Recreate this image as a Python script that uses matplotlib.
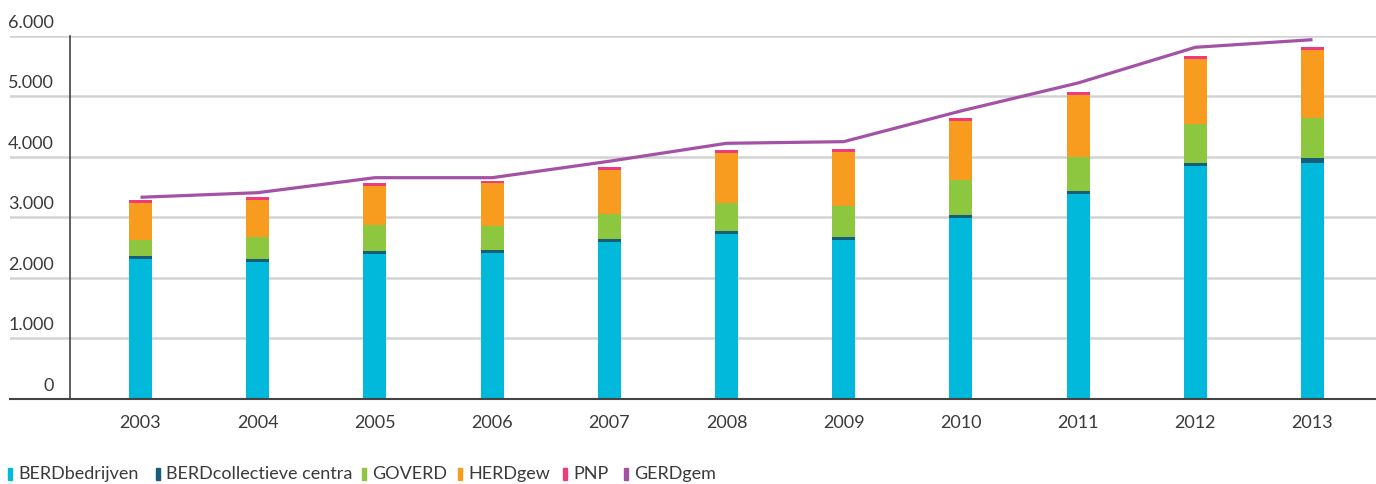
import matplotlib
matplotlib.use("Agg")
import matplotlib.pyplot as plt
from matplotlib.patches import Rectangle
import numpy as np

years = ["2003", "2004", "2005", "2006", "2007", "2008", "2009", "2010", "2011", "2012", "2013"]
berd_bedrijven = [2311, 2261, 2394, 2415, 2592, 2725, 2625, 2989, 3386, 3849, 3899]
berd_collectief = [46, 50, 49, 50, 50, 45, 50, 50, 50, 50, 88]
goverd = [268, 364, 431, 397, 418, 467, 518, 584, 562, 650, 661]
herdgew = [612, 612, 641, 706, 723, 828, 888, 971, 1026, 1071, 1120]
pnp = [50, 45, 53, 33, 50, 50, 50, 50, 50, 49, 50]
gerdgem = [3332, 3408, 3656, 3656, 3928, 4225, 4252, 4760, 5223, 5813, 5939]

series_names = ["BERDbedrijven", "BERDcollectieve centra", "GOVERD", "HERDgew", "PNP", "GERDgem"]
colors = ["#00B9DB", "#135F79", "#8DC63F", "#F89C1F", "#EE3B7B", "#A352A6"]
yticks = [0, 1000, 2000, 3000, 4000, 5000, 6000]

plt.rcParams['font.family'] = ['Lato', 'DejaVu Sans']
text_color = "#3a3a3a"
fs = 13

W, H = 1376, 484
fig = plt.figure(figsize=(W / 100, H / 100), dpi=100)
px0, px_spacing = 140.5, 117.2
xl = (10 - px0) / px_spacing
xr = (W - px0) / px_spacing
y0_px, y6_px = 398.7, 36.0
ax = fig.add_axes([10 / W, (H - y0_px) / H, 1 - 10 / W, (y0_px - y6_px) / H])
ax.set_xlim(xl, xr)
ax.set_ylim(0, 6000)

x = np.arange(len(years))
bw = 23 / px_spacing
stacks = [berd_bedrijven, berd_collectief, goverd, herdgew, pnp]
bottom = np.zeros(len(years))
for vals, c in zip(stacks, colors[:5]):
    ax.bar(x, vals, bw, bottom=bottom, color=c, zorder=3, linewidth=0)
    bottom += np.array(vals)

ax.plot(x, gerdgem, color=colors[5], lw=2.3, zorder=4, solid_capstyle='butt')

# gridlines
for v in yticks[1:]:
    ax.axhline(v, color="#d2d2d2", lw=1.8, zorder=1)
for s in ["top", "right", "left"]:
    ax.spines[s].set_visible(False)
ax.spines["bottom"].set_color("#444444")
ax.spines["bottom"].set_linewidth(1.5)
ax.spines["bottom"].set_zorder(5)

# vertical axis line
xax = (70 - px0) / px_spacing
ax.plot([xax, xax], [0, 6000], color="#333333", lw=1.1, zorder=5, clip_on=False)

ax.set_yticks([])
xlab = (54 - px0) / px_spacing
for v in yticks:
    lab = f"{v:,}".replace(",", ".")
    ax.text(xlab, v + 135, lab, ha="right", va="baseline", fontsize=fs,
            color=text_color, clip_on=False)

ax.set_xticks(x)
ax.set_xticklabels(years, fontsize=fs, color=text_color)
ax.tick_params(axis="x", length=0, pad=12)

# legend (manual)
leg_marker_x = [8, 156, 362, 458, 563, 624]
leg_y_center = 474
for name, c, mx in zip(series_names, colors, leg_marker_x):
    fig.patches.append(Rectangle((mx / W, (H - leg_y_center - 6) / H), 4 / W, 12 / H,
                                 transform=fig.transFigure, color=c, figure=fig))
    fig.text((mx + 10) / W, (H - leg_y_center) / H, name, ha="left", va="center",
             fontsize=fs, color=text_color)

fig.savefig("out.png", dpi=100)
